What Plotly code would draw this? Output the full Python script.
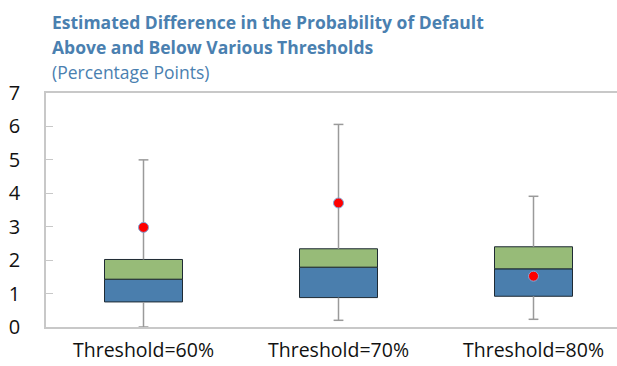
import plotly.graph_objects as go

# Box-plot statistics per threshold (percentage points)
categories = ["Threshold=60%", "Threshold=70%", "Threshold=80%"]
lower_whisker = [0.0, 0.20, 0.23]
q1 = [0.75, 0.88, 0.92]
median = [1.43, 1.79, 1.74]
q3 = [2.02, 2.34, 2.40]
upper_whisker = [5.0, 6.06, 3.91]
mean = [2.98, 3.71, 1.52]
y_ticks = [0, 1, 2, 3, 4, 5, 6, 7]

BLUE = "#4A7EAD"
GREEN = "#97BB78"
TITLE_BLUE = "#4A80B0"
WHISKER = "#9A9A9A"
FRAME = "#C8C8C8"
FONT = "Open Sans"

W, H = 617, 366
ML, MT, MB = 46, 93, 39
plot_w = W - ML
plot_h = H - MT - MB
cat_px = 195.0

x_idx = list(range(len(categories)))

fig = go.Figure()

# Whisker stems: lower fence -> Q1 and Q3 -> upper fence
wx, wy = [], []
for i in x_idx:
    wx += [i, i, None, i, i, None]
    wy += [lower_whisker[i], q1[i], None, q3[i], upper_whisker[i], None]
fig.add_trace(go.Scatter(x=wx, y=wy, mode="lines",
                         line=dict(color=WHISKER, width=1.5),
                         hoverinfo="skip", showlegend=False))

# Whisker caps
fig.add_trace(go.Scatter(x=x_idx + x_idx, y=lower_whisker + upper_whisker,
                         mode="markers",
                         marker=dict(symbol="line-ew", size=7,
                                     line=dict(color=WHISKER, width=1.5)),
                         hoverinfo="skip", showlegend=False))

# Lower box half: Q1 -> median
fig.add_trace(go.Bar(x=x_idx, y=[m - a for m, a in zip(median, q1)], base=q1,
                     width=0.4, marker=dict(color=BLUE, line=dict(color="#1e2a33", width=1)),
                     showlegend=False))
# Upper box half: median -> Q3
fig.add_trace(go.Bar(x=x_idx, y=[b - m for b, m in zip(q3, median)], base=median,
                     width=0.4, marker=dict(color=GREEN, line=dict(color="#1e2a33", width=1)),
                     showlegend=False))

# Means
fig.add_trace(go.Scatter(x=x_idx, y=mean, mode="markers",
                         marker=dict(color="#FF0000", size=10,
                                     line=dict(color="#7FA8DA", width=1)),
                         showlegend=False))


def py(pix):
    """Convert a pixel row of the page to paper y."""
    return 1 + (MT - pix) / plot_h


annotations = [
    dict(text="<b>Estimated Difference in the Probability of Default</b>", y=py(22)),
    dict(text="<b>Above and Below Various Thresholds</b>", y=py(47)),
    dict(text="(Percentage Points)", y=py(72)),
]
for a in annotations:
    a.update(xref="paper", yref="paper", x=(50 - ML) / plot_w, xanchor="left",
             yanchor="middle", showarrow=False,
             font=dict(family=FONT, color=TITLE_BLUE, size=17.5))

fig.update_layout(
    width=W, height=H,
    margin=dict(l=ML, r=0, t=MT, b=MB, pad=0),
    paper_bgcolor="white", plot_bgcolor="white",
    barmode="overlay",
    font=dict(family=FONT, color="#111111"),
    annotations=annotations,
    xaxis=dict(
        range=[-0.5, plot_w / cat_px - 0.5],
        tickmode="array", tickvals=x_idx, ticktext=categories,
        tickfont=dict(size=19.5, color="#111111"),
        showline=True, mirror=True, linecolor=FRAME, linewidth=1.5,
        ticks="", showgrid=False, zeroline=False, fixedrange=True,
        ticklabelstandoff=5, automargin=False,
    ),
    yaxis=dict(
        range=[0, 7], tickvals=y_ticks,
        tickfont=dict(size=20, color="#111111"),
        showline=True, mirror=False, linecolor=FRAME, linewidth=1.5,
        ticks="inside", ticklen=7, tickcolor=FRAME, tickwidth=1,
        showgrid=False, zeroline=False, fixedrange=True,
        ticklabelstandoff=20, automargin=False,
    ),
)

fig.write_html("out.html")
